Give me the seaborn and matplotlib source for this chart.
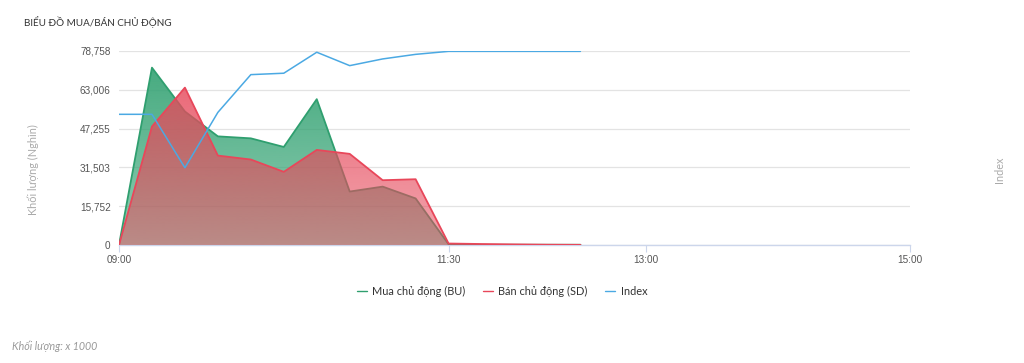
import numpy as np
import pandas as pd
import matplotlib
matplotlib.use("Agg")
import matplotlib.pyplot as plt
import seaborn as sns
from matplotlib.colors import to_rgb
from matplotlib.lines import Line2D

# ---- data ----
times = ["09:00", "09:15", "09:30", "09:45", "10:00", "10:15", "10:30", "10:45",
         "11:00", "11:15", "11:30", "11:45", "12:00", "12:15", "12:30"]
buy_bu = [0, 72000, 54200, 44100, 43300, 39800, 59200, 21700,
          23700, 18900, 300, 100, 100, 100, 100]
sell_sd = [0, 48100, 63900, 36300, 34700, 29700, 38600, 37000,
           26300, 26700, 600, 400, 250, 120, 60]
index_vals = [1224.1, 1224.1, 1193.8, 1225.2, 1246.6, 1247.4, 1259.3, 1251.7,
              1255.5, 1258.1, 1259.8, 1259.8, 1259.8, 1259.8, 1259.8]
y_ticks = [0, 15752, 31503, 47255, 63006, 78758]
x_tick_labels = ["09:00", "11:30", "13:00", "15:00"]
series_names = ["Mua chủ động (BU)", "Bán chủ động (SD)", "Index"]


def to_min(t):
    h, m = t.split(":")
    return (int(h) - 9) * 60 + int(m)


df = pd.DataFrame({
    "t": [to_min(t) for t in times],
    "bu": buy_bu,
    "sd": sell_sd,
    "idx": index_vals,
})

sns.set_theme(style="white")
plt.rcParams["font.family"] = ["Liberation Sans", "DejaVu Sans"]

GREEN_LINE = "#2f9f6f"
GREEN_FILL = "#35a374"
RED_LINE = "#e8475a"
RED_FILL = "#e64a5c"
BLUE = "#4ba9e3"

fig = plt.figure(figsize=(10.24, 3.63), dpi=100)
ax = fig.add_axes([119 / 1024, 118 / 363, (910 - 119) / 1024, 194 / 363])
YMAX = y_ticks[-1]
XMAX = to_min("15:00")


def gradient_fill(ax, x, y, color, a_top, a_bot, zorder):
    poly = ax.fill_between(x, 0, y, facecolor="none", edgecolor="none", zorder=zorder)
    rgb = to_rgb(color)
    n = 256
    grad = np.zeros((n, 1, 4))
    grad[:, 0, :3] = rgb
    grad[:, 0, 3] = np.linspace(a_top, a_bot, n)
    im = ax.imshow(grad, aspect="auto", extent=[0, XMAX, 0, YMAX],
                   origin="upper", zorder=zorder, interpolation="bilinear")
    path = poly.get_paths()[0]
    im.set_clip_path(path, transform=ax.transData)
    return im


gradient_fill(ax, df["t"], df["bu"], GREEN_FILL, 0.95, 0.55, 2)
sns.lineplot(data=df, x="t", y="bu", ax=ax, color=GREEN_LINE, lw=1.3, zorder=3)
gradient_fill(ax, df["t"], df["sd"], RED_FILL, 0.9, 0.5, 4)
sns.lineplot(data=df, x="t", y="sd", ax=ax, color=RED_LINE, lw=1.3, zorder=5)

ax.set_xlim(0, XMAX)
ax.set_ylim(0, YMAX)
ax.set_yticks(y_ticks)
ax.set_yticklabels([f"{v:,}" for v in y_ticks])
ax.set_xticks([to_min(t) for t in x_tick_labels])
ax.set_xticklabels(x_tick_labels)
ax.grid(axis="y", color="#e3e3e3", lw=0.9, zorder=0)
ax.grid(axis="x", visible=False)
for s in ["top", "right", "left"]:
    ax.spines[s].set_visible(False)
ax.spines["bottom"].set_color("#ccd6eb")
ax.spines["bottom"].set_linewidth(1.0)
ax.tick_params(axis="y", length=0, labelsize=7.2, labelcolor="#555555", pad=6)
ax.tick_params(axis="x", length=5, width=0.8, color="#ccd6eb", labelsize=7.2,
               labelcolor="#555555", pad=2, bottom=True, direction="out")
ax.set_xlabel("")
ax.set_ylabel("")

ax2 = ax.twinx()
sns.lineplot(data=df, x="t", y="idx", ax=ax2, color=BLUE, lw=1.1, zorder=6)
ax2.set_ylim(1150, 1260)
ax2.set_yticks([])
ax2.set_ylabel("")
ax2.set_xlabel("")
for s in ax2.spines.values():
    s.set_visible(False)
ax2.set_xlim(0, XMAX)

# texts
fig.text(24 / 1024, 1 - 22 / 363, "BIỂU ĐỒ MUA/BÁN CHỦ ĐỘNG", fontsize=7.1,
         color="#333333", va="center", ha="left", family=["Lato", "DejaVu Sans"])
fig.text(33 / 1024, 1 - 170 / 363, "Khối lượng (Nghìn)", rotation=90, fontsize=7.8,
         color="#aaaaaa", va="center", ha="center", family=["Lato", "DejaVu Sans"])
fig.text(1000 / 1024, 1 - 170 / 363, "Index", rotation=90, fontsize=7.8,
         color="#aaaaaa", va="center", ha="center", family=["Lato", "DejaVu Sans"])
fig.text(12 / 1024, 1 - 346 / 363, "Khối lượng: x 1000", fontsize=7.7,
         color="#999999", va="center", ha="left", style="italic",
         family=["Lato", "DejaVu Sans"])

handles = [Line2D([0], [0], color=GREEN_LINE, lw=1.0),
           Line2D([0], [0], color=RED_LINE, lw=1.0),
           Line2D([0], [0], color=BLUE, lw=1.0)]
leg = fig.legend(handles, series_names, loc="center", bbox_to_anchor=(502 / 1024, 1 - 291 / 363),
                 ncol=3, frameon=False, handlelength=0.9, handletextpad=0.5,
                 columnspacing=1.6, prop={"family": ["Lato", "DejaVu Sans"], "size": 7.9})
for t in leg.get_texts():
    t.set_color("#333333")

fig.savefig("out.png", dpi=100)
